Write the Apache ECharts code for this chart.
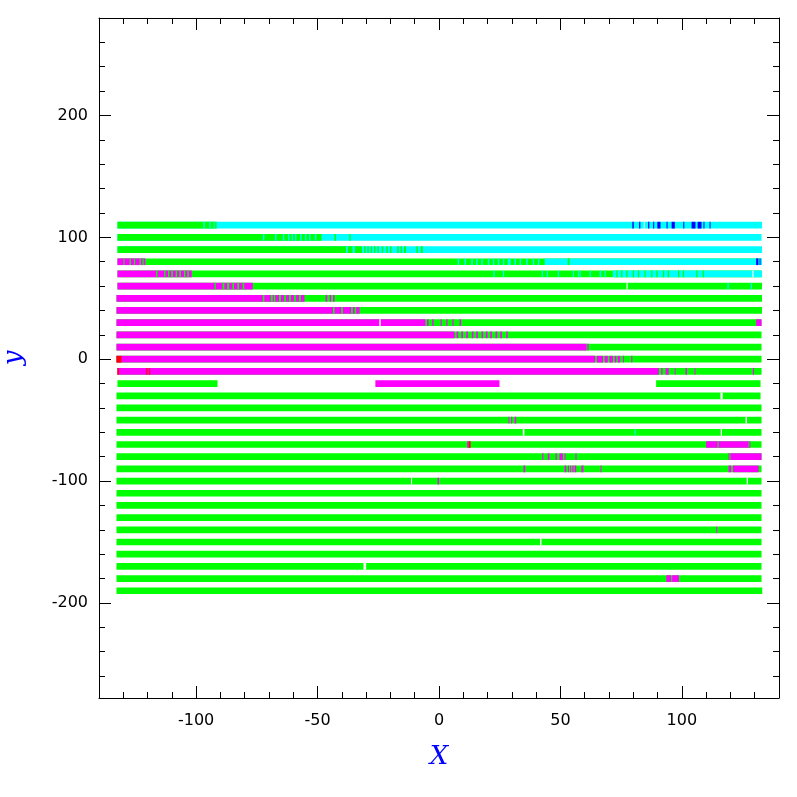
<!DOCTYPE html>
<html><head><meta charset="utf-8">
<script src="https://cdn.jsdelivr.net/npm/echarts@6/dist/echarts.min.js"></script>
<style>html,body{margin:0;padding:0;background:#fff}#c{width:797px;height:797px}</style>
</head><body><div id="c"></div>
<script>
// ---- axis ticks ----
const xMajorTicks = [-100, -50, 0, 50, 100];
const xMinorTicks = [-130,-120,-110,-90,-80,-70,-60,-40,-30,-20,-10,10,20,30,40,60,70,80,90,110,120,130];
const yMajorTicks = [-200, -100, 0, 100, 200];
const yMinorTicks = [-260,-240,-220,-180,-160,-140,-120,-80,-60,-40,-20,20,40,60,80,120,140,160,180,220,240,260];

// ---- rows (strip y, start x, end x, base colour) ----
const rowY     = [110,100,90,80,70,60,50,40,30,20,10,0,-10,-20,-30,-40,-50,-60,-70,-80,-90,-100,-110,-120,-130,-140,-150,-160,-170,-180,-190];
const rowStart = [-132.4,-132.4,-132.4,-132.4,-132.4,-132.4,-132.8,-132.8,-132.8,-132.8,-132.8,-132.8,-132.4,-132.4,-132.8,-132.8,-132.8,-132.8,-132.8,-132.8,-132.8,-132.8,-132.8,-132.8,-132.8,-132.8,-132.8,-132.8,-132.8,-132.8,-132.8];
const rowEnd   = [133,132.8,133,132.8,132.8,133,133,133,132.8,132.8,132.8,132.8,132.8,132.4,132.4,132.8,132.8,132.8,132.8,132.8,132.8,132.8,132.8,132.8,132.8,132.8,132.8,132.8,132.8,132.8,133.1];
const rowBase  = ['c','c','c','g','g','g','g','g','g','g','g','g','g','w','g','g','g','g','g','g','g','g','g','g','g','g','g','g','g','g','g'];

// ---- coloured segments laid over the rows: [y, xFrom, xTo, colour] ----
const overlays = [
  // y = 110
  [110,-132.4,-91.6,'g'],[110,-97.0,-96.4,'c'],[110,-94.6,-94.0,'c'],[110,-92.8,-92.3,'c'],
  [110,79.6,80.2,'b'],[110,82.4,82.9,'b'],[110,84.3,84.7,'w'],[110,86.1,86.6,'b'],[110,88.2,88.6,'b'],
  [110,89.9,91.2,'b'],[110,93.7,94.1,'b'],[110,95.8,97.1,'b'],[110,100.6,101.0,'b'],[110,104.0,105.6,'b'],
  [110,106.5,108.1,'b'],[110,108.9,109.3,'b'],[110,111.4,111.8,'b'],
  // y = 100
  [100,-132.4,-48.4,'g'],[100,-72.5,-71.9,'c'],[100,-67.5,-66.9,'c'],[100,-64.3,-63.7,'c'],[100,-62.2,-61.6,'c'],
  [100,-60.7,-60.1,'c'],[100,-59.3,-58.7,'c'],[100,-57.2,-56.6,'c'],[100,-55.2,-54.6,'c'],[100,-53.5,-52.9,'c'],
  [100,-51.1,-50.5,'c'],[100,-43.0,-42.4,'g'],[100,-36.9,-36.4,'g'],
  // y = 90
  [90,-132.4,-31.7,'g'],[90,-38.3,-37.6,'c'],[90,-35.6,-34.6,'c'],
  [90,-30.9,-30.3,'g'],[90,-29.5,-28.9,'g'],[90,-28.1,-27.5,'g'],[90,-26.8,-26.2,'g'],[90,-25.4,-24.8,'g'],
  [90,-23.6,-23.0,'g'],[90,-21.7,-21.1,'g'],[90,-20.2,-19.6,'g'],[90,-17.2,-16.6,'g'],[90,-15.8,-15.2,'g'],
  [90,-14.4,-13.6,'g'],[90,-9.3,-8.7,'g'],[90,-7.5,-6.7,'g'],
  // y = 80
  [80,-132.4,-120.9,'m'],[80,-129.9,-129.5,'g'],[80,-127.4,-126.9,'g'],[80,-125.6,-125.1,'g'],[80,-123.3,-122.8,'g'],[80,-122.1,-121.6,'g'],
  [80,7.7,8.3,'c'],[80,10.5,11.1,'c'],[80,13.3,13.9,'c'],[80,15.3,15.9,'c'],[80,17.4,18.0,'c'],[80,20.1,20.7,'c'],
  [80,22.2,22.8,'c'],[80,24.2,24.8,'c'],[80,26.3,26.9,'c'],[80,28.3,29.5,'c'],[80,31.1,31.7,'c'],[80,33.2,33.8,'c'],
  [80,35.9,36.5,'c'],[80,38.6,39.2,'c'],[80,40.7,41.3,'c'],[80,43.5,133,'c'],[80,53.0,53.7,'g'],
  [80,130.6,131.5,'b'],[80,132.0,132.4,'b'],
  // y = 70
  [70,-132.4,-101.8,'m'],[70,-116.5,-115.9,'g'],[70,-113.2,-112.6,'g'],[70,-111.6,-111.0,'g'],[70,-110.2,-109.6,'g'],
  [70,-108.4,-107.8,'g'],[70,-106.9,-106.3,'g'],[70,-105.0,-104.4,'g'],[70,-103.6,-103.0,'g'],
  [70,22.4,22.9,'c'],[70,26.3,26.8,'c'],[70,42.3,42.8,'c'],[70,44.4,44.9,'c'],[70,48.9,49.4,'c'],[70,55.1,55.6,'c'],
  [70,57.2,57.6,'c'],[70,57.9,58.3,'c'],[70,62.0,62.5,'c'],[70,66.1,66.8,'c'],[70,68.2,68.7,'c'],
  [70,71.6,133,'c'],[70,73.0,73.5,'g'],[70,75.0,75.5,'g'],[70,77.1,77.6,'g'],[70,79.8,80.3,'g'],[70,81.9,82.4,'g'],
  [70,84.6,85.1,'g'],[70,87.4,87.9,'g'],[70,89.5,90.0,'g'],[70,92.2,92.7,'g'],[70,94.2,94.7,'g'],[70,98.4,98.9,'g'],
  [70,100.4,100.9,'g'],[70,105.9,106.4,'g'],[70,108.6,109.1,'g'],[70,129.0,129.5,'w'],
  // y = 60
  [60,-132.4,-76.7,'m'],[60,-92.5,-91.9,'g'],[60,-89.2,-88.4,'g'],[60,-87.2,-86.4,'g'],[60,-85.1,-84.4,'g'],
  [60,-83.0,-82.3,'g'],[60,-80.9,-80.2,'g'],[60,77.2,77.7,'w'],[60,118.8,119.3,'c'],[60,128.4,128.9,'c'],
  // y = 50
  [50,-132.8,-55.4,'m'],[50,-72.6,-71.9,'g'],[50,-69.3,-68.5,'g'],[50,-68.0,-67.4,'g'],[50,-65.9,-65.1,'g'],
  [50,-63.8,-63.0,'g'],[50,-61.8,-61.0,'g'],[50,-59.7,-58.9,'g'],[50,-57.7,-56.9,'g'],
  [50,-46.7,-46.0,'m'],[50,-45.0,-44.4,'m'],[50,-43.6,-43.0,'m'],
  // y = 40
  [40,-132.8,-32.7,'m'],[40,-43.7,-43.0,'g'],[40,-40.3,-39.6,'g'],[40,-36.2,-35.5,'g'],[40,-34.8,-34.1,'g'],
  // y = 30
  [30,-132.8,-5.6,'m'],[30,-24.6,-24.0,'w'],[30,-4.9,-4.3,'m'],[30,-2.8,-2.2,'m'],[30,0.6,1.1,'m'],
  [30,3.0,3.5,'m'],[30,5.5,6.0,'m'],[30,8.5,9.1,'m'],[30,130.6,132.8,'m'],
  // y = 20
  [20,-132.8,6.4,'m'],[20,7.2,7.9,'m'],[20,9.2,9.9,'m'],[20,11.2,11.9,'m'],[20,13.5,14.2,'m'],[20,15.3,16.0,'m'],
  [20,17.5,18.2,'m'],[20,19.3,20.0,'m'],[20,21.1,21.8,'m'],[20,23.3,24.0,'m'],[20,25.2,25.9,'m'],[20,27.7,28.3,'m'],
  // y = 10
  [10,-132.8,60.7,'m'],[10,61.1,61.6,'m'],
  // y = 0
  [0,-132.8,64.3,'m'],[0,-132.8,-130.8,'r'],[0,65.0,67.5,'m'],[0,68.2,69.5,'m'],[0,70.2,71.6,'m'],
  [0,72.3,73.0,'m'],[0,73.6,74.6,'m'],[0,75.7,76.0,'m'],[0,79.2,79.6,'m'],
  // y = -10
  [-10,-132.4,90.5,'m'],[-10,-132.4,-131.8,'r'],[-10,-120.6,-120.1,'r'],[-10,-119.4,-118.9,'r'],
  [-10,91.5,92.0,'m'],[-10,93.3,94.6,'m'],[-10,97.0,97.4,'m'],[-10,101.5,102.1,'m'],[-10,105.2,105.6,'m'],[-10,129.2,129.7,'m'],
  // y = -20
  [-20,-132.4,-91.2,'g'],[-20,-26.2,24.9,'m'],[-20,89.4,132.4,'g'],
  // y = -30
  [-30,115.9,116.8,'w'],
  // y = -50
  [-50,28.6,29.0,'m'],[-50,29.7,30.1,'m'],[-50,31.1,31.8,'m'],[-50,126.2,126.8,'w'],
  // y = -60
  [-60,34.5,35.2,'w'],[-60,80.5,80.9,'c'],[-60,116.0,116.5,'w'],
  // y = -70
  [-70,11.6,12.3,'m'],[-70,12.3,13.0,'r'],[-70,110.0,128.2,'m'],[-70,114.7,115.0,'g'],[-70,127.4,127.8,'g'],
  // y = -80
  [-80,42.5,43.0,'m'],[-80,44.8,45.5,'m'],[-80,48.0,48.5,'m'],[-80,49.6,51.0,'m'],[-80,51.7,52.1,'m'],[-80,56.2,56.5,'m'],
  [-80,119.2,132.8,'m'],[-80,119.6,119.9,'g'],
  // y = -90
  [-90,34.8,35.5,'m'],[-90,51.7,52.4,'m'],[-90,53.1,53.5,'m'],[-90,54.0,54.4,'m'],[-90,54.9,55.4,'m'],[-90,55.8,56.5,'m'],
  [-90,58.6,59.5,'m'],[-90,66.5,66.9,'m'],[-90,119.2,120.3,'m'],[-90,121.0,131.6,'m'],
  // y = -100
  [-100,-11.5,-11.1,'w'],[-100,-0.6,0.0,'m'],[-100,126.7,127.2,'w'],
  // y = -140
  [-140,114.2,114.6,'m'],
  // y = -150
  [-150,41.6,42.2,'w'],
  // y = -170
  [-170,-31.1,-30.0,'w'],
  // y = -180
  [-180,93.6,95.6,'m'],[-180,96.0,98.8,'m']
];

const palette = { g:'#00ff00', c:'#00ffff', m:'#ff00ff', b:'#0000ff', r:'#ff0000', w:'#ffffff' };
const halfHeight = 2.75;

const segs = rowY.map((y, i) => [y, rowStart[i], rowEnd[i], rowBase[i]]).concat(overlays);
const seriesData = segs.map(s => [s[1], s[2], s[0]]);

function renderItem(params, api) {
  const s = segs[params.dataIndex];
  const p0 = api.coord([api.value(0), api.value(2) + halfHeight]);
  const p1 = api.coord([api.value(1), api.value(2) - halfHeight]);
  const w = Math.max(1, p1[0] - p0[0]);
  return { type: 'rect', shape: { x: p0[0], y: p0[1], width: w, height: p1[1] - p0[1] },
           style: { fill: palette[s[3]] } };
}

const labelFont = 'DejaVu Sans';
const tickLine = { color: '#000', width: 1 };
function xAx(pos, ticks, len, showLine, labels) {
  return {
    type: 'value', min: -140, max: 140, position: pos, gridIndex: 0,
    axisLine: { show: showLine, onZero: false, lineStyle: tickLine },
    axisTick: { show: true, inside: true, length: len, customValues: ticks, lineStyle: tickLine },
    axisLabel: labels ? { show: true, customValues: ticks, color: '#000', fontSize: 16, fontFamily: labelFont, margin: 15 } : { show: false },
    splitLine: { show: false }
  };
}
function yAx(pos, ticks, len, showLine, labels) {
  return {
    type: 'value', min: -278, max: 280, position: pos, gridIndex: 0,
    axisLine: { show: showLine, onZero: false, lineStyle: tickLine },
    axisTick: { show: true, inside: true, length: len, customValues: ticks, lineStyle: tickLine },
    axisLabel: labels ? { show: true, customValues: ticks, color: '#000', fontSize: 16, fontFamily: labelFont, margin: 11 } : { show: false },
    splitLine: { show: false }
  };
}

const xAxes = [
  Object.assign(xAx('bottom', xMajorTicks, 12, true, true), {
    name: 'X', nameLocation: 'middle', nameGap: 46,
    nameTextStyle: { color: '#0000ff', fontSize: 26, fontStyle: 'italic', fontFamily: 'DejaVu Serif' }
  }),
  xAx('bottom', xMinorTicks, 6, false, false),
  xAx('top', xMajorTicks, 12, true, false),
  xAx('top', xMinorTicks, 6, false, false)
];
const yAxes = [
  Object.assign(yAx('left', yMajorTicks, 12, true, true), {
    name: 'y', nameLocation: 'middle', nameGap: 72,
    nameTextStyle: { color: '#0000ff', fontSize: 26, fontStyle: 'italic', fontFamily: 'DejaVu Serif' }
  }),
  yAx('left', yMinorTicks, 6, false, false),
  yAx('right', yMajorTicks, 12, true, false),
  yAx('right', yMinorTicks, 6, false, false)
];

const chart = echarts.init(document.getElementById('c'), null, { renderer: 'canvas' });
chart.setOption({
  animation: false,
  backgroundColor: '#fff',
  grid: { left: 99, right: 18, top: 18, bottom: 99, containLabel: false, outerBoundsMode: 'none' },
  xAxis: xAxes,
  yAxis: yAxes,
  series: [{
    type: 'custom', xAxisIndex: 0, yAxisIndex: 0,
    renderItem: renderItem,
    encode: { x: [0, 1], y: 2 },
    data: seriesData
  }]
});
</script></body></html>
